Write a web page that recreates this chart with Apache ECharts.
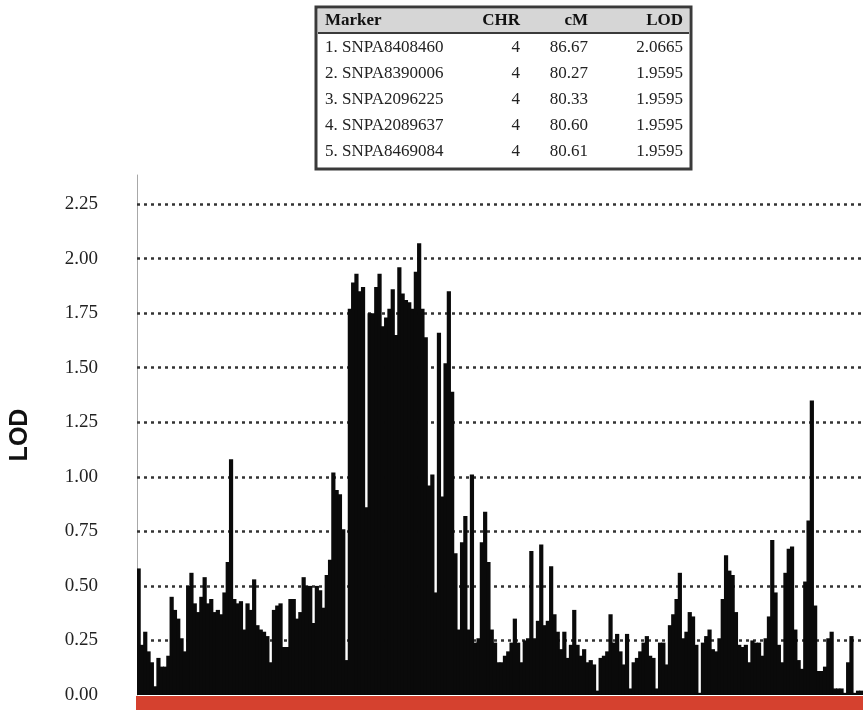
<!DOCTYPE html>
<html>
<head>
<meta charset="utf-8">
<script src="https://cdn.jsdelivr.net/npm/echarts@6/dist/echarts.min.js"></script>
<style>
  html, body { margin: 0; padding: 0; background: #fff; }
  #main { width: 863px; height: 710px; }
</style>
</head>
<body>
<div id="main"></div>
<script>
// LOD score per marker, left to right
var lodPart1 = [0.58, 0.23, 0.29, 0.20, 0.15, 0.04, 0.17, 0.13, 0.13, 0.18, 0.45, 0.39, 0.35, 0.26, 0.20,
    0.50, 0.56, 0.42, 0.38, 0.45, 0.54, 0.42, 0.44, 0.38, 0.39, 0.37, 0.47, 0.61, 1.08, 0.44, 0.42, 0.43,
    0.30, 0.42, 0.39, 0.53, 0.32, 0.30, 0.29, 0.27, 0.15, 0.39, 0.41, 0.42, 0.22, 0.22, 0.44, 0.44, 0.35,
    0.38, 0.54, 0.50, 0.50, 0.33, 0.50];
var lodPart2 = [0.48, 0.40, 0.55, 0.62, 1.02, 0.94, 0.92, 0.76, 0.16, 1.77, 1.89, 1.93, 1.85, 1.87, 0.86,
    1.75, 1.75, 1.87, 1.93, 1.69, 1.73, 1.77, 1.86, 1.65, 1.96, 1.84, 1.81, 1.80, 1.77, 1.94, 2.07, 1.77,
    1.64, 0.96, 1.01, 0.47, 1.66, 0.91, 1.52, 1.85, 1.39, 0.65, 0.30, 0.70, 0.82, 0.30, 1.01, 0.24, 0.26,
    0.70, 0.84, 0.61, 0.30, 0.24, 0.15];
var lodPart3 = [0.15, 0.18, 0.20, 0.24, 0.35, 0.24, 0.15, 0.25, 0.26, 0.66, 0.26, 0.34, 0.69, 0.32,
    0.34, 0.59, 0.37, 0.29, 0.21, 0.29, 0.17, 0.23, 0.39, 0.23, 0.18, 0.21, 0.15, 0.16, 0.14, 0.02,
    0.17, 0.18, 0.20, 0.37, 0.24, 0.28, 0.20, 0.14, 0.28, 0.03, 0.15, 0.17, 0.20, 0.24, 0.27, 0.18, 0.17,
    0.03, 0.24, 0.24, 0.14, 0.32, 0.37, 0.44, 0.56];
var lodPart4 = [0.26, 0.29, 0.38, 0.36, 0.23, 0.01, 0.24, 0.27, 0.30, 0.21, 0.20, 0.26, 0.44, 0.64, 0.57,
    0.55, 0.38, 0.23, 0.22, 0.23, 0.15, 0.25, 0.24, 0.24, 0.18, 0.26, 0.36, 0.71, 0.47, 0.23, 0.15, 0.56,
    0.67, 0.68, 0.30, 0.16, 0.12, 0.52, 0.80, 1.35, 0.41, 0.11, 0.11, 0.13, 0.26, 0.29, 0.03, 0.03,
    0.03, 0.01, 0.15, 0.27, 0.01, 0.02, 0.02];
var lodValues = lodPart1.concat(lodPart2, lodPart3, lodPart4);
var markerIndex = lodValues.map(function (v, i) { return i + 1; });

var yTicks = [0.25, 0.50, 0.75, 1.00, 1.25, 1.50, 1.75, 2.00, 2.25];

// top markers table
var tableHeader = ['Marker', 'CHR', 'cM', 'LOD'];
var topMarkers = ['1. SNPA8408460', '2. SNPA8390006', '3. SNPA2096225', '4. SNPA2089637', '5. SNPA8469084'];
var topChr = ['4', '4', '4', '4', '4'];
var topCm = ['86.67', '80.27', '80.33', '80.60', '80.61'];
var topLod = ['2.0665', '1.9595', '1.9595', '1.9595', '1.9595'];

var serif = "'Liberation Serif', 'DejaVu Serif', serif";

var tableEls = [
    {type: 'rect', shape: {x: 316, y: 7, width: 375, height: 162},
        style: {fill: '#fff', stroke: '#3a3a3a', lineWidth: 3}},
    {type: 'rect', shape: {x: 318, y: 9, width: 371, height: 24},
        style: {fill: '#d6d6d6'}},
    {type: 'line', shape: {x1: 318, y1: 33, x2: 689, y2: 33},
        style: {stroke: '#3a3a3a', lineWidth: 2}}
];
var colX = [325, 520, 588, 683];
var colAlign = ['left', 'right', 'right', 'right'];
tableHeader.forEach(function (h, c) {
    tableEls.push({type: 'text', x: colX[c], y: 21,
        style: {text: h, font: 'bold 17px ' + serif, fill: '#111', align: colAlign[c], verticalAlign: 'middle'}});
});
topMarkers.forEach(function (m, r) {
    var row = [m, topChr[r], topCm[r], topLod[r]];
    row.forEach(function (t, c) {
        tableEls.push({type: 'text', x: colX[c], y: 48 + r * 26,
            style: {text: t, font: '17px ' + serif, fill: '#222', align: colAlign[c], verticalAlign: 'middle'}});
    });
});

var myChart = echarts.init(document.getElementById('main'));
var option = {
    animation: false,
    backgroundColor: '#fff',
    graphic: tableEls,
    grid: [
        {left: 136, right: 0, top: 175, bottom: 15},
        // chromosome track under the plot
        {left: 136, right: 0, top: 696, bottom: 0, show: true, backgroundColor: '#d5412f', borderWidth: 0}
    ],
    xAxis: [{
        type: 'category',
        data: markerIndex,
        axisLine: {show: false},
        axisTick: {show: false},
        axisLabel: {show: false},
        splitLine: {show: false}
    }, {
        type: 'category',
        gridIndex: 1,
        data: markerIndex,
        show: false
    }],
    yAxis: [{
        type: 'value',
        min: 0,
        max: 2.383,
        interval: 0.25,
        name: 'LOD',
        nameLocation: 'middle',
        nameGap: 104,
        nameTextStyle: {fontFamily: "'Liberation Sans', Arial, sans-serif", fontWeight: 'bold', fontSize: 25, color: '#111'},
        axisLine: {show: true, lineStyle: {color: '#a8a8a8', width: 1}},
        axisTick: {show: false},
        splitLine: {show: false},
        axisLabel: {
            showMaxLabel: false,
            margin: 39,
            fontFamily: serif,
            fontSize: 19,
            color: '#222',
            formatter: function (v) { return v.toFixed(2); }
        }
    }, {
        type: 'value',
        gridIndex: 1,
        show: false
    }],
    series: [{
        type: 'bar',
        data: lodValues,
        barWidth: 4.2,
        itemStyle: {color: '#0a0a0a'},
        z: 2,
        markLine: {
            silent: true,
            z: 1,
            symbol: 'none',
            label: {show: false},
            lineStyle: {type: [3, 4], color: '#333', width: 2.5},
            data: yTicks.map(function (v) { return {yAxis: v}; })
        }
    }]
};
myChart.setOption(option);
</script>
</body>
</html>
